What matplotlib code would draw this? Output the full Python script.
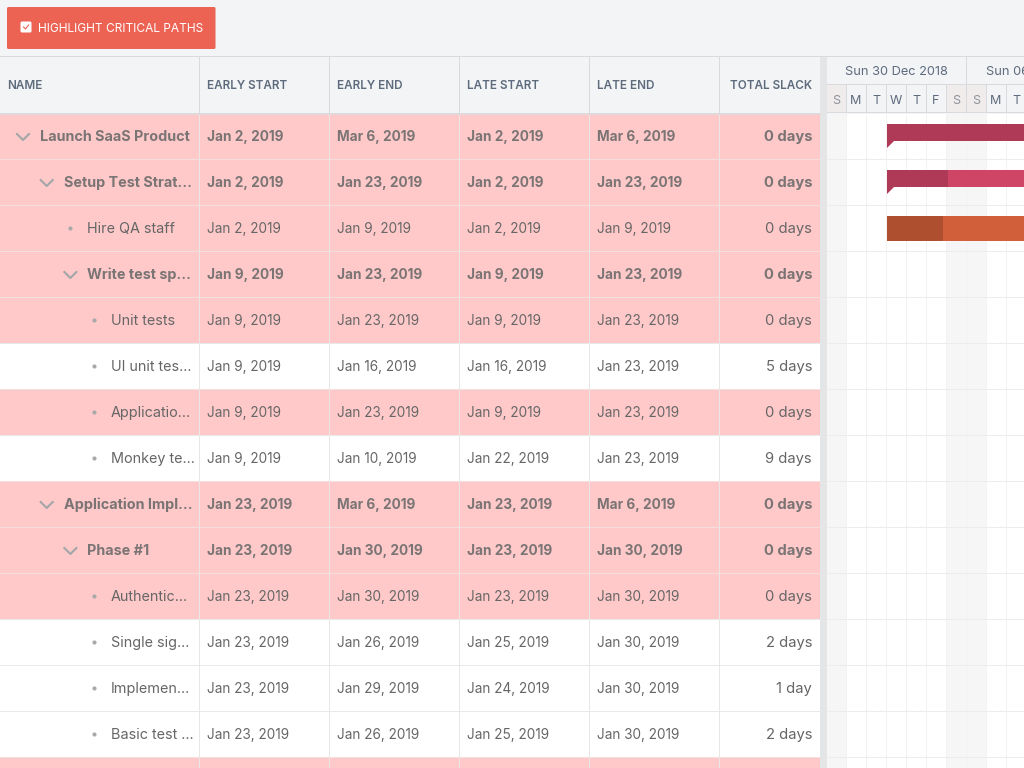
import datetime as dt
import matplotlib
matplotlib.use('Agg')
import matplotlib.pyplot as plt
from matplotlib.patches import Rectangle, FancyBboxPatch, Polygon

plt.rcParams['font.family'] = ['Inter', 'DejaVu Sans']

# table data
columns = ['NAME', 'EARLY START', 'EARLY END', 'LATE START', 'LATE END', 'TOTAL SLACK']
names = ['Launch SaaS Product', 'Setup Test Strat…', 'Hire QA staff', 'Write test sp…', 'Unit tests',
         'UI unit tes…', 'Applicatio…', 'Monkey te…', 'Application Impl…', 'Phase #1',
         'Authentic…', 'Single sig…', 'Implemen…', 'Basic test …']
levels = [0, 1, 2, 2, 3, 3, 3, 3, 1, 2, 3, 3, 3, 3]
levels_icon = [True, True, False, True, False, False, False, False, True, True, False, False, False, False]
early_start = ['Jan 2, 2019', 'Jan 2, 2019', 'Jan 2, 2019', 'Jan 9, 2019', 'Jan 9, 2019', 'Jan 9, 2019',
               'Jan 9, 2019', 'Jan 9, 2019', 'Jan 23, 2019', 'Jan 23, 2019', 'Jan 23, 2019', 'Jan 23, 2019',
               'Jan 23, 2019', 'Jan 23, 2019']
early_end = ['Mar 6, 2019', 'Jan 23, 2019', 'Jan 9, 2019', 'Jan 23, 2019', 'Jan 23, 2019', 'Jan 16, 2019',
             'Jan 23, 2019', 'Jan 10, 2019', 'Mar 6, 2019', 'Jan 30, 2019', 'Jan 30, 2019', 'Jan 26, 2019',
             'Jan 29, 2019', 'Jan 26, 2019']
late_start = ['Jan 2, 2019', 'Jan 2, 2019', 'Jan 2, 2019', 'Jan 9, 2019', 'Jan 9, 2019', 'Jan 16, 2019',
              'Jan 9, 2019', 'Jan 22, 2019', 'Jan 23, 2019', 'Jan 23, 2019', 'Jan 23, 2019', 'Jan 25, 2019',
              'Jan 24, 2019', 'Jan 25, 2019']
late_end = ['Mar 6, 2019', 'Jan 23, 2019', 'Jan 9, 2019', 'Jan 23, 2019', 'Jan 23, 2019', 'Jan 23, 2019',
            'Jan 23, 2019', 'Jan 23, 2019', 'Mar 6, 2019', 'Jan 30, 2019', 'Jan 30, 2019', 'Jan 30, 2019',
            'Jan 30, 2019', 'Jan 30, 2019']
slack = ['0 days', '0 days', '0 days', '0 days', '0 days', '5 days', '0 days', '9 days', '0 days', '0 days',
         '0 days', '2 days', '1 day', '2 days']
critical = [True, True, True, True, True, False, True, False, True, True, True, False, False, False, True]

# gantt data
bar_rows = [0, 1, 2]
bar_start = ['Jan 2, 2019', 'Jan 2, 2019', 'Jan 2, 2019']
bar_end = ['Mar 6, 2019', 'Jan 23, 2019', 'Jan 9, 2019']
bar_done = [0.5, 0.145, 0.4]
bar_parent = [True, True, False]
week_labels = ['Sun 30 Dec 2018', 'Sun 06 Jan 2019']
day_labels = ['S', 'M', 'T', 'W', 'T', 'F', 'S', 'S', 'M', 'T']

W, H = 1024, 768
col_x = [0, 200, 330, 460, 590, 720, 820]
PX = 0.72
LW = 0.72
ROW_H = 46
BODY_TOP = 114
GANTT_X = 827
DAY_W = 20
BG = '#f3f4f6'
HEAD = '#5d6b7d'
TEXT = '#666666'
PINK = '#ffc9c9'


def days(s):
    d = dt.datetime.strptime(s, '%b %d, %Y')
    return (d - dt.datetime(2018, 12, 30)).days


fig = plt.figure(figsize=(W / 100, H / 100), dpi=100, facecolor=BG)

# table area, in pixels
ax = fig.add_axes([0, 0, 1, 1])
ax.set_xlim(0, W)
ax.set_ylim(H, 0)
ax.axis('off')

ax.add_patch(FancyBboxPatch((7, 7), 208.5, 42, boxstyle='round,pad=0,rounding_size=1.5',
                            fc='#ec6354', ec='none'))
ax.add_patch(FancyBboxPatch((20.5, 21.5), 11, 11, boxstyle='round,pad=0,rounding_size=1.5',
                            fc='white', ec='none'))
ax.plot([23.5, 25.5, 28.5], [27, 29, 25], color='#ec6354', lw=0.8)
ax.text(38, 32, 'HIGHLIGHT CRITICAL PATHS', color='white', fontsize=11.9 * PX, va='baseline')

ax.plot([0, W], [55.8, 55.8], color='#d8dadd', lw=LW)
ax.add_patch(Rectangle((0, BODY_TOP), 820, H - BODY_TOP, fc='white', ec='none'))
ax.add_patch(Rectangle((820, 57), 7, H - 57, fc='#e4e5e7', ec='none'))

for i, is_crit in enumerate(critical):
    top = BODY_TOP + i * ROW_H
    if is_crit:
        ax.add_patch(Rectangle((0, top), 820, ROW_H, fc=PINK, ec='none'))
    ax.plot([0, 820], [top - 0.8, top - 0.8], color='#f3dede' if is_crit else '#e9e9e9', lw=LW)

for x in col_x[1:-1]:
    ax.plot([x - 0.8, x - 0.8], [57, 113], color='#d8dadd', lw=LW)
    ax.plot([x - 0.8, x - 0.8], [BODY_TOP, H], color='#ebe6e6', lw=LW)
ax.plot([0, 820], [113.5, 113.5], color='#d8dadd', lw=1.1)

for j, col in enumerate(columns):
    if j == 5:
        ax.text(812, 89, col, color=HEAD, fontsize=11.7 * PX, fontweight='semibold', va='baseline', ha='right')
    else:
        ax.text(col_x[j] + 7, 89, col, color=HEAD, fontsize=11.7 * PX, fontweight='semibold', va='baseline')

for i, name in enumerate(names):
    y = BODY_TOP + i * ROW_H + 22
    parent = levels_icon[i]
    weight = 'bold' if parent else 'normal'
    color = '#7a7474' if parent else TEXT
    text_x = 40 + levels[i] * 23.7
    icon_x = text_x - 17
    if parent:
        ax.plot([icon_x - 6, icon_x, icon_x + 6], [y - 2, y + 4, y - 2], color='#a3a6a8', lw=1.5)
    else:
        ax.plot([icon_x], [y], 'o', ms=3, color='#a9a9a9', mec='none')
    ax.text(text_x, y + 5, name, color=color, fontsize=14.4 * PX, fontweight=weight, va='baseline')
    for k, vals in enumerate([early_start, early_end, late_start, late_end]):
        ax.text(col_x[k + 1] + 7, y + 5, vals[i], color=color, fontsize=13.6 * PX, fontweight=weight, va='baseline')
    ax.text(812, y + 5, slack[i], color=color, fontsize=14.8 * PX, fontweight=weight, va='baseline', ha='right')

# gantt header
head = fig.add_axes([GANTT_X / W, 1 - 113 / H, (W - GANTT_X) / W, 56 / H])
head.set_xlim(0, (W - GANTT_X) / DAY_W)
head.set_ylim(113, 57)
head.axis('off')
for w, label in enumerate(week_labels):
    head.text(3.45 + 7 * w, 75, label, color=HEAD, fontsize=12.8 * PX, ha='center', va='baseline', clip_on=True)
    head.plot([7 * (w + 1) - 0.04] * 2, [57, 84], color='#d8dadd', lw=LW)
head.plot([0, 10], [84.2, 84.2], color='#d8dadd', lw=LW)
for d, label in enumerate(day_labels):
    weekend = d % 7 in (0, 6)
    if weekend:
        head.add_patch(Rectangle((d, 85), 1, 28, fc='#f1ecec', ec='none'))
    head.text(d + 0.45, 103.5, label, color='#8f949b' if weekend else HEAD, fontsize=12.5 * PX,
              ha='center', va='baseline', clip_on=True)
    head.plot([d - 0.04, d - 0.04], [85, 113], color='#d8dadd', lw=LW)
head.plot([0, 10], [113, 113], color='#d8dadd', lw=1.4)

# gantt body, x in days from Dec 30, y in rows
gantt = fig.add_axes([GANTT_X / W, 0, (W - GANTT_X) / W, (H - BODY_TOP) / H])
gantt.set_xlim(0, (W - GANTT_X) / DAY_W)
gantt.set_ylim((H - BODY_TOP) / ROW_H, 0)
gantt.axis('off')
gantt.add_patch(Rectangle((0, 0), 10, 15, fc='white', ec='none', zorder=0))
for d in range(10):
    if d % 7 in (0, 6):
        gantt.add_patch(Rectangle((d, 0), 1, 15, fc='#f6f6f6', ec='none', zorder=0.5))
    gantt.plot([d - 0.04, d - 0.04], [0, 15], color='#f2f2f2', lw=LW, zorder=1)
for r in range(1, 15):
    gantt.plot([0, 10], [r - 0.017, r - 0.017], color='#ececec', lw=LW, zorder=1)

for r, s, e, done, parent in zip(bar_rows, bar_start, bar_end, bar_done, bar_parent):
    x0, x1 = days(s), days(e)
    length = x1 - x0
    top = r + 10 / ROW_H
    bar_h = (17 if parent else 25) / ROW_H
    light, dark = ('#cf4566', '#ae3a58') if parent else ('#d15f39', '#ae5030')
    gantt.barh(top, length, height=bar_h, left=x0, align='edge', color=light, zorder=2)
    gantt.barh(top, length * done, height=bar_h, left=x0, align='edge', color=dark, zorder=3)
    if parent:
        gantt.add_patch(Polygon([(x0, top + bar_h), (x0 + 0.35, top + bar_h), (x0, top + bar_h + 7 / ROW_H)],
                                fc=dark, ec='none', zorder=3))

fig.savefig('out.png', dpi=100, facecolor=BG)
